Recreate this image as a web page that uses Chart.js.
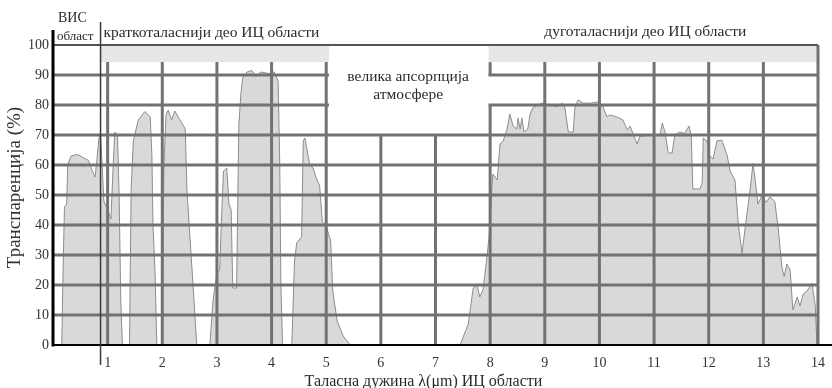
<!DOCTYPE html>
<html>
<head>
<meta charset="utf-8">
<script src="https://cdn.jsdelivr.net/npm/chart.js@4/dist/chart.umd.min.js"></script>
<style>
  body { margin: 0; background: #fff; }
  #wrap { width: 832px; height: 388px; }
</style>
</head>
<body>
<div id="wrap"><canvas id="irChart" width="832" height="388"></canvas></div>
<script>
// wavelength in µm and atmospheric transmittance in %
const wavelength = [
  0.00, 0.16, 0.19, 0.21, 0.25, 0.27, 0.33, 0.45, 0.55, 0.65, 0.72, 0.77, 0.80, 0.84, 0.87, 0.90,
  0.93, 1.00, 1.06, 1.09, 1.13, 1.18, 1.21, 1.24, 1.27,
  1.40, 1.43, 1.47, 1.56, 1.68, 1.78, 1.81, 1.83, 1.87, 1.90,
  1.99, 2.03, 2.07, 2.11, 2.17, 2.23, 2.29, 2.36, 2.42, 2.45, 2.51, 2.57, 2.63,
  2.87, 2.93, 3.00, 3.05, 3.09, 3.12, 3.18, 3.22, 3.26, 3.29, 3.36, 3.40, 3.44, 3.47, 3.55, 3.64,
  3.72, 3.80, 3.95, 4.05, 4.12, 4.15, 4.17, 4.20,
  4.37, 4.42, 4.46, 4.55, 4.58, 4.61, 4.67, 4.70, 4.76, 4.81, 4.88, 4.93, 5.00, 5.04, 5.08, 5.12,
  5.20, 5.31, 5.44,
  7.45, 7.60, 7.69, 7.76, 7.81, 7.87, 7.94, 7.98, 8.03, 8.05, 8.13, 8.18, 8.24, 8.31, 8.36, 8.42,
  8.49, 8.51, 8.55, 8.58, 8.62, 8.69, 8.73, 8.78, 8.86, 8.95, 9.10, 9.22, 9.32, 9.37, 9.43, 9.52,
  9.55, 9.61, 9.70, 9.83, 9.96, 10.05, 10.14, 10.19, 10.32, 10.43, 10.51, 10.56, 10.61, 10.69, 10.74, 10.93,
  11.11, 11.15, 11.20, 11.26, 11.33, 11.38, 11.47, 11.56, 11.64, 11.68, 11.71, 11.84, 11.88, 11.90, 11.97, 12.02,
  12.08, 12.15, 12.24, 12.34, 12.39, 12.48, 12.54, 12.61, 12.66, 12.76, 12.81, 12.87, 12.90, 12.98, 13.05, 13.12,
  13.21, 13.27, 13.34, 13.38, 13.43, 13.49, 13.54, 13.62, 13.67, 13.73, 13.80, 13.89, 13.95, 13.98, 14.00
];
const transmission = [
  0, 0, 30, 46, 47, 60, 63, 63.5, 62.5, 61.5, 58, 56, 61, 69, 70, 60,
  48, 45, 42, 55, 71, 70, 50, 15, 0,
  0, 52, 68, 75, 77.8, 76, 63, 40, 23, 0,
  0, 60, 77, 78.3, 75, 78, 76, 74, 72, 52, 35, 18, 0,
  0, 15, 24, 25, 45, 58, 59, 47, 45, 19, 19, 73, 84, 89, 91, 91.5,
  89.5, 91, 90.5, 91, 88, 60, 20, 0,
  0, 28, 34, 36, 68, 69, 63, 60, 59, 56, 53, 41, 40, 37, 35, 18,
  8, 3, 0,
  0, 7, 19, 20, 16, 18.5, 29, 36, 52, 57, 55, 67, 68, 72, 77, 73,
  72, 75.6, 72, 75.6, 71, 72, 77, 79, 80, 80.6, 80, 79.4, 80.6, 79, 71, 71,
  79, 81.7, 80.6, 80.6, 81, 80, 76, 76.7, 76, 75, 71.7, 73, 70.6, 67, 69.5, 70,
  70, 74, 71, 64, 64, 70, 71, 70.5, 73, 70, 52, 52, 54, 69, 68, 63,
  62, 68, 68.3, 63, 58, 55, 40.6, 30.6, 38, 52, 60.6, 52, 47, 50, 47.5, 49.4,
  47.8, 39, 26, 22.8, 27, 25, 11.7, 16, 13, 17, 18, 20.6, 13, 0, 0
];

const xTicks = [1, 2, 3, 4, 5, 6, 7, 8, 9, 10, 11, 12, 13, 14];
const yTicks = [0, 10, 20, 30, 40, 50, 60, 70, 80, 90, 100];

const visEdge = 0.87;   // boundary of the visible region
const shortIR = [0.87, 5.05];
const longIR = [7.97, 14];

const SERIF = '"Liberation Serif", "DejaVu Serif", serif';

// irregular grid, shaded header bands, axes and region captions
const regionGrid = {
  id: 'regionGrid',
  afterDatasetsDraw(chart) {
    const { ctx, scales: { x, y } } = chart;
    const X = v => x.getPixelForValue(v);
    const Y = v => y.getPixelForValue(v);
    const seg = (x1, y1, x2, y2) => {
      ctx.beginPath(); ctx.moveTo(x1, y1); ctx.lineTo(x2, y2); ctx.stroke();
    };
    const bandLow = 94.3;
    ctx.save();

    // light header bands
    ctx.fillStyle = '#e6e6e6';
    [shortIR, longIR].forEach(([a, b]) => {
      ctx.fillRect(X(a), Y(100), X(b) - X(a), Y(bandLow) - Y(100));
    });

    // horizontal grid
    ctx.strokeStyle = '#727272';
    ctx.lineWidth = 3;
    yTicks.forEach(v => {
      if (v === 0 || v === 100) return;
      if (v >= 80) {
        seg(X(0), Y(v), X(shortIR[1]), Y(v));
        seg(X(longIR[0]), Y(v), X(14), Y(v));
      } else {
        seg(X(0), Y(v), X(14), Y(v));
      }
    });

    // vertical grid
    xTicks.forEach(v => {
      if (v === 6 || v === 7) seg(X(v), Y(70), X(v), Y(0));
      else if (v === 8) {
        seg(X(v), Y(80), X(v), Y(0));
        seg(X(v), Y(bandLow), X(v), Y(90));
      } else if (v === 14) seg(X(v), Y(100), X(v), Y(0));
      else seg(X(v), Y(bandLow), X(v), Y(0));
    });

    // top line at 100
    ctx.strokeStyle = '#555';
    ctx.lineWidth = 2;
    seg(X(0), Y(100), X(14), Y(100));

    // axes
    ctx.strokeStyle = '#000';
    ctx.lineWidth = 3;
    seg(X(0), Y(105), X(0), Y(0) + 1.5);
    ctx.lineWidth = 2;
    seg(X(0), Y(0), chart.width, Y(0));

    // boundary of visible region
    ctx.strokeStyle = '#3a3a3a';
    ctx.lineWidth = 1.5;
    seg(X(visEdge), Y(107.7), X(visEdge), Y(-6.7));

    // captions
    ctx.fillStyle = '#2b2b2b';
    ctx.textBaseline = 'middle';
    ctx.textAlign = 'left';
    ctx.font = '14px ' + SERIF;
    ctx.fillText('ВИС', X(0) + 5, Y(109));
    ctx.font = '13px ' + SERIF;
    ctx.fillText('област', X(0) + 4, Y(102.7));
    ctx.font = '15.5px ' + SERIF;
    ctx.fillText('краткоталаснији део ИЦ области', X(visEdge) + 3, Y(104));
    ctx.textAlign = 'center';
    ctx.fillText('дуготаласнији део ИЦ области', X(10.84), Y(104.3));
    ctx.fillText('велика апсорпција', X(6.5), Y(89.3));
    ctx.fillText('атмосфере', X(6.5), Y(83.3));

    // x axis title
    ctx.font = '16px ' + SERIF;
    ctx.fillText('Таласна дужина λ(μm) ИЦ области', X(6.78), Y(-12.3));
    ctx.restore();
  }
};

new Chart(document.getElementById('irChart').getContext('2d'), {
  type: 'line',
  data: {
    datasets: [{
      data: wavelength.map((w, i) => ({ x: w, y: transmission[i] })),
      borderColor: '#8c8c8c',
      backgroundColor: '#d9d9d9',
      borderWidth: 1,
      fill: 'origin',
      pointRadius: 0,
      tension: 0
    }]
  },
  options: {
    responsive: false,
    animation: false,
    events: [],
    layout: { padding: { top: 30, right: 14, left: 0, bottom: 0 } },
    plugins: { legend: { display: false }, tooltip: { enabled: false } },
    scales: {
      x: {
        type: 'linear',
        min: 0,
        max: 14,
        afterFit: s => { s.height = 43; s.paddingLeft = 0; s.paddingRight = 0; },
        afterBuildTicks: s => { s.ticks = xTicks.map(v => ({ value: v })); },
        grid: { display: false, drawTicks: false },
        border: { display: false },
        ticks: { color: '#333', padding: 10, font: { family: SERIF, size: 14 } }
      },
      y: {
        min: 0,
        max: 105,
        afterFit: s => { s.width = 53; s.paddingTop = 0; s.paddingBottom = 0; },
        afterBuildTicks: s => { s.ticks = yTicks.map(v => ({ value: v })); },
        grid: { display: false, drawTicks: false },
        border: { display: false },
        ticks: { color: '#333', padding: 4, font: { family: SERIF, size: 14 } },
        title: {
          display: true,
          text: 'Транспаренција (%)',
          color: '#333',
          padding: { top: 4, bottom: 0 },
          font: { family: SERIF, size: 19 }
        }
      }
    }
  },
  plugins: [regionGrid]
});
</script>
</body>
</html>
